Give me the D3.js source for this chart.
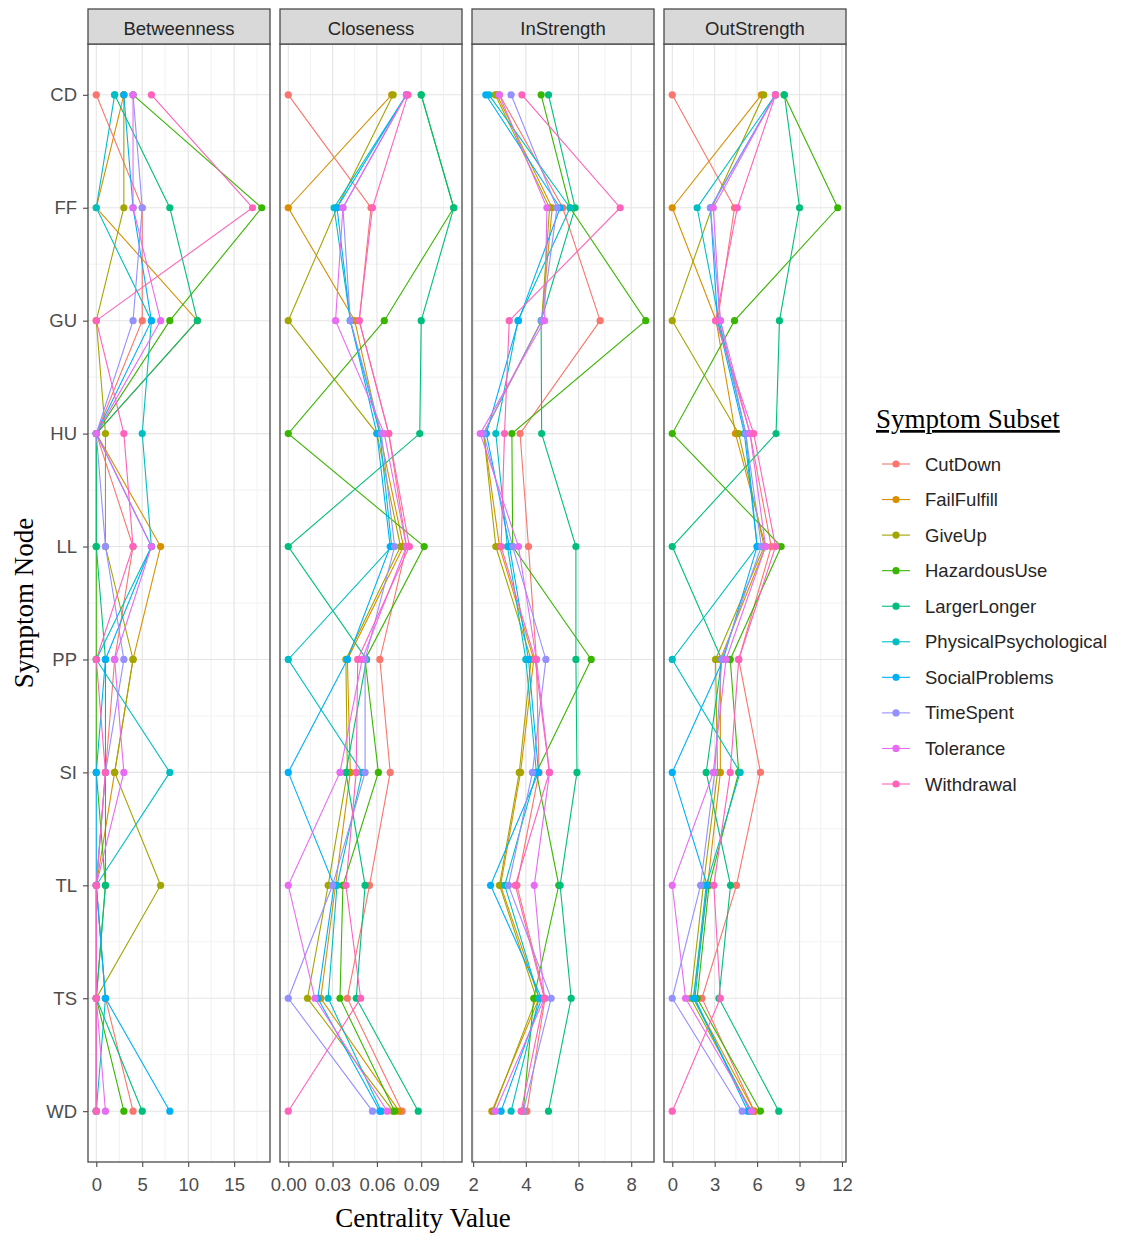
<!DOCTYPE html>
<html>
<head>
<meta charset="utf-8">
<script src="https://cdn.jsdelivr.net/npm/d3@7"></script>
<style>
  html, body { margin: 0; padding: 0; background: #ffffff; }
  svg { display: block; }
</style>
</head>
<body>
<svg id="chart" width="1125" height="1236"></svg>
<script>
// Symptom nodes (rows, top to bottom) and symptom subsets (one coloured line each)
const nodes = ["CD", "FF", "GU", "HU", "LL", "PP", "SI", "TL", "TS", "WD"];
const subsets = ["CutDown", "FailFulfill", "GiveUp", "HazardousUse", "LargerLonger",
                 "PhysicalPsychological", "SocialProblems", "TimeSpent", "Tolerance", "Withdrawal"];
const subsetColors = ["#F8766D", "#D89000", "#A3A500", "#39B600", "#00BF7D",
                      "#00BFC4", "#00B0F6", "#9590FF", "#E76BF3", "#FF62BC"];
const measures = ["Betweenness", "Closeness", "InStrength", "OutStrength"];

// Centrality values: one row per subset, columns follow `nodes`
const betweenness = [
  [0, 5, 5, 0, 4, 2, 1, 0, 1, 4],
  [3, 0, 11, 0, 7, 4, 2, 0, 0, 0],
  [3, 3, 0, 1, 1, 4, 2, 7, 0, 0],
  [4, 18, 8, 0, 0, 0, 0, 1, 0, 3],
  [2, 8, 11, 0, 0, 1, 1, 1, 0, 5],
  [2, 0, 6, 5, 6, 0, 8, 0, 1, 0],
  [3, 4, 6, 0, 6, 1, 0, 0, 1, 8],
  [4, 5, 4, 0, 1, 3, 1, 0, 0, 0],
  [4, 4, 7, 0, 6, 2, 3, 0, 0, 1],
  [6, 17, 0, 3, 4, 0, 1, 0, 0, 0]
];
const closeness = [
  [0, 0.056, 0.048, 0.068, 0.080, 0.062, 0.069, 0.055, 0.040, 0.077],
  [0.070, 0, 0.045, 0.062, 0.078, 0.040, 0.042, 0.032, 0.022, 0.075],
  [0.071, 0.033, 0, 0.060, 0.076, 0.039, 0.040, 0.027, 0.013, 0.071],
  [0.090, 0.112, 0.065, 0, 0.092, 0.052, 0.061, 0.037, 0.035, 0.072],
  [0.090, 0.112, 0.090, 0.089, 0, 0.053, 0.039, 0.052, 0.046, 0.088],
  [0.080, 0.031, 0.042, 0.062, 0.070, 0, 0.050, 0.033, 0.027, 0.063],
  [0.080, 0.033, 0.042, 0.060, 0.069, 0.040, 0, 0.031, 0.020, 0.062],
  [0.080, 0.037, 0.042, 0.063, 0.072, 0.052, 0.052, 0.030, 0, 0.057],
  [0.080, 0.037, 0.032, 0.065, 0.080, 0.050, 0.035, 0, 0.018, 0.067],
  [0.081, 0.057, 0.048, 0.068, 0.082, 0.047, 0.046, 0.039, 0.049, 0]
];
const inStrength = [
  [3.00, 5.40, 6.82, 3.78, 4.10, 4.40, 4.50, 3.66, 4.73, 4.04],
  [2.90, 5.00, 4.60, 2.40, 3.00, 4.30, 3.80, 3.04, 4.50, 2.71],
  [2.84, 4.90, 4.60, 2.40, 2.86, 4.20, 3.75, 3.00, 4.40, 2.75],
  [4.58, 5.68, 8.55, 3.47, 3.50, 6.48, 4.40, 5.25, 4.30, 3.90],
  [4.86, 5.87, 4.58, 4.60, 5.90, 5.90, 5.94, 5.30, 5.72, 4.86],
  [2.60, 5.68, 3.70, 2.86, 3.30, 4.00, 4.40, 3.20, 4.50, 3.44],
  [2.48, 5.30, 3.72, 2.50, 3.38, 4.10, 4.48, 2.66, 4.60, 3.06],
  [3.44, 5.18, 4.60, 2.40, 3.50, 4.76, 4.25, 3.34, 4.96, 3.90],
  [2.99, 4.80, 4.71, 2.27, 3.72, 4.40, 4.90, 4.32, 4.70, 2.84],
  [3.85, 7.58, 3.37, 3.19, 3.06, 4.35, 4.89, 3.60, 4.70, 3.82]
];
const outStrength = [
  [0, 4.4, 3.2, 5.5, 7.0, 4.7, 6.24, 4.54, 2.1, 5.8],
  [6.3, 0, 3.1, 4.47, 6.6, 3.4, 3.4, 2.5, 1.5, 5.8],
  [6.47, 2.8, 0, 4.7, 6.5, 3.06, 3.2, 2.2, 1.3, 5.6],
  [7.9, 11.7, 4.4, 0, 7.7, 4.1, 4.7, 2.6, 1.76, 6.24],
  [7.93, 9.0, 7.58, 7.34, 0, 3.5, 2.4, 4.12, 3.3, 7.53],
  [7.3, 1.76, 3.3, 5.2, 6.0, 0, 4.8, 2.4, 1.5, 5.5],
  [7.3, 2.7, 3.2, 5.1, 6.0, 3.6, 0, 2.47, 1.6, 5.34],
  [7.3, 2.7, 3.4, 5.2, 6.3, 3.5, 3.0, 2.0, 0, 4.94],
  [7.3, 2.9, 3.4, 5.5, 6.6, 3.8, 2.9, 0, 0.94, 5.6],
  [7.3, 4.6, 3.06, 5.76, 7.3, 4.7, 4.1, 2.94, 3.4, 0]
];

// Axis ticks for each panel
const betweennessTicks = [0, 5, 10, 15];
const closenessTicks = [0, 0.03, 0.06, 0.09];
const inStrengthTicks = [2, 4, 6, 8];
const outStrengthTicks = [0, 3, 6, 9, 12];

const panelValues = [betweenness, closeness, inStrength, outStrength];
const panelTicks = [betweennessTicks, closenessTicks, inStrengthTicks, outStrengthTicks];
const panelFormats = [d3.format("d"), d3.format(".2f"), d3.format("d"), d3.format("d")];

// Layout
const panelLefts = [88, 280, 472, 664];
const panelWidth = 182;
const stripTop = 9, stripBottom = 44;
const panelTop = 44, panelBottom = 1162;

const svg = d3.select("#chart");
const sans = "'Liberation Sans', Arial, sans-serif";
const serif = "'Liberation Serif', 'Times New Roman', serif";
const tickFont = 18.5;
const titleFont = 27;

// Continuous y scale over node positions with 5% expansion, first node at top
const nIdx = nodes.map((d, i) => i + 1);
const yPad = (nodes.length - 1) * 0.05;
const y = d3.scaleLinear()
  .domain([1 - yPad, nodes.length + yPad])
  .range([panelTop, panelBottom]);

function expandDomain(values) {
  const [lo, hi] = d3.extent(values);
  const pad = (hi - lo) * 0.05;
  return [lo - pad, hi + pad];
}

measures.forEach((measure, p) => {
  const left = panelLefts[p];
  const values = panelValues[p];
  const x = d3.scaleLinear()
    .domain(expandDomain(values.flat()))
    .range([left, left + panelWidth]);

  const g = svg.append("g");

  // panel background
  g.append("rect")
    .attr("x", left).attr("y", panelTop)
    .attr("width", panelWidth).attr("height", panelBottom - panelTop)
    .attr("fill", "#ffffff");

  // minor grid (midpoints between major breaks)
  const ticks = panelTicks[p];
  const step = ticks[1] - ticks[0];
  const [d0, d1] = x.domain();
  const minorX = [];
  for (let v = ticks[0] - step / 2; v <= d1; v += step) {
    if (v >= d0) minorX.push(v);
  }
  g.selectAll(".minor-x").data(minorX).join("line")
    .attr("x1", d => x(d)).attr("x2", d => x(d))
    .attr("y1", panelTop).attr("y2", panelBottom)
    .attr("stroke", "#f2f2f2").attr("stroke-width", 1);
  const minorY = d3.range(1.5, nodes.length, 1);
  g.selectAll(".minor-y").data(minorY).join("line")
    .attr("x1", left).attr("x2", left + panelWidth)
    .attr("y1", d => y(d)).attr("y2", d => y(d))
    .attr("stroke", "#f2f2f2").attr("stroke-width", 1);

  // major grid
  g.selectAll(".major-x").data(ticks.filter(t => t >= d0 && t <= d1)).join("line")
    .attr("x1", d => x(d)).attr("x2", d => x(d))
    .attr("y1", panelTop).attr("y2", panelBottom)
    .attr("stroke", "#e4e4e4").attr("stroke-width", 1.1);
  g.selectAll(".major-y").data(nIdx).join("line")
    .attr("x1", left).attr("x2", left + panelWidth)
    .attr("y1", d => y(d)).attr("y2", d => y(d))
    .attr("stroke", "#e4e4e4").attr("stroke-width", 1.1);

  // lines, one per subset, joining the nodes in order
  const line = d3.line()
    .x(d => x(d.v))
    .y(d => y(d.i));
  const series = values.map((row, s) => ({
    color: subsetColors[s],
    pts: row.map((v, i) => ({ v, i: i + 1 }))
  }));
  g.selectAll(".series").data(series).join("path")
    .attr("d", d => line(d.pts))
    .attr("fill", "none")
    .attr("stroke", d => d.color)
    .attr("stroke-width", 1.1);

  // points
  series.forEach(sr => {
    g.append("g").selectAll("circle").data(sr.pts).join("circle")
      .attr("cx", d => x(d.v))
      .attr("cy", d => y(d.i))
      .attr("r", 3.6)
      .attr("fill", sr.color);
  });

  // panel border
  g.append("rect")
    .attr("x", left).attr("y", panelTop)
    .attr("width", panelWidth).attr("height", panelBottom - panelTop)
    .attr("fill", "none").attr("stroke", "#4a4a4a").attr("stroke-width", 1.3);

  // strip
  g.append("rect")
    .attr("x", left).attr("y", stripTop)
    .attr("width", panelWidth).attr("height", stripBottom - stripTop)
    .attr("fill", "#d9d9d9").attr("stroke", "#4a4a4a").attr("stroke-width", 1.3);
  g.append("text")
    .attr("x", left + panelWidth / 2).attr("y", 34.5)
    .attr("text-anchor", "middle")
    .attr("font-family", sans).attr("font-size", tickFont)
    .attr("fill", "#262626")
    .text(measure);

  // x axis
  const xAxis = d3.axisBottom(x)
    .tickValues(ticks.filter(t => t >= d0 && t <= d1))
    .tickFormat(panelFormats[p])
    .tickSize(5).tickPadding(11);
  const ax = g.append("g").attr("transform", `translate(0,${panelBottom})`).call(xAxis);
  ax.select(".domain").remove();
  ax.selectAll(".tick line").attr("stroke", "#4a4a4a").attr("stroke-width", 1.1);
  ax.selectAll(".tick text")
    .attr("font-family", sans).attr("font-size", tickFont).attr("fill", "#4d4d4d");
});

// y axis on the first panel
const yAxis = d3.axisLeft(y)
  .tickValues(nIdx)
  .tickFormat(d => nodes[d - 1])
  .tickSize(5).tickPadding(6);
const ay = svg.append("g").attr("transform", `translate(${panelLefts[0]},0)`).call(yAxis);
ay.select(".domain").remove();
ay.selectAll(".tick line").attr("stroke", "#4a4a4a").attr("stroke-width", 1.1);
ay.selectAll(".tick text")
  .attr("font-family", sans).attr("font-size", tickFont).attr("fill", "#4d4d4d");

// axis titles
svg.append("text")
  .attr("x", 423)
  .attr("y", 1227)
  .attr("text-anchor", "middle")
  .attr("font-family", serif).attr("font-size", titleFont).attr("fill", "#000")
  .text("Centrality Value");
svg.append("text")
  .attr("transform", `translate(33,${(panelTop + panelBottom) / 2}) rotate(-90)`)
  .attr("text-anchor", "middle")
  .attr("font-family", serif).attr("font-size", titleFont).attr("fill", "#000")
  .text("Symptom Node");

// legend
const legend = svg.append("g").attr("transform", "translate(876,0)");
legend.append("text")
  .attr("x", 0).attr("y", 428)
  .attr("font-family", serif).attr("font-size", titleFont).attr("fill", "#000")
  .attr("text-decoration", "underline")
  .text("Symptom Subset");
const legY = d3.scalePoint().domain(subsets).range([464, 784]);
const items = legend.selectAll(".item").data(subsets).join("g")
  .attr("transform", d => `translate(0,${legY(d)})`);
items.append("line")
  .attr("x1", 6).attr("x2", 34).attr("y1", 0).attr("y2", 0)
  .attr("stroke", (d, i) => subsetColors[i]).attr("stroke-width", 1.1);
items.append("circle")
  .attr("cx", 20).attr("cy", 0).attr("r", 3.6)
  .attr("fill", (d, i) => subsetColors[i]);
items.append("text")
  .attr("x", 49).attr("y", 6.5)
  .attr("font-family", sans).attr("font-size", tickFont).attr("fill", "#262626")
  .text(d => d);
</script>
</body>
</html>
